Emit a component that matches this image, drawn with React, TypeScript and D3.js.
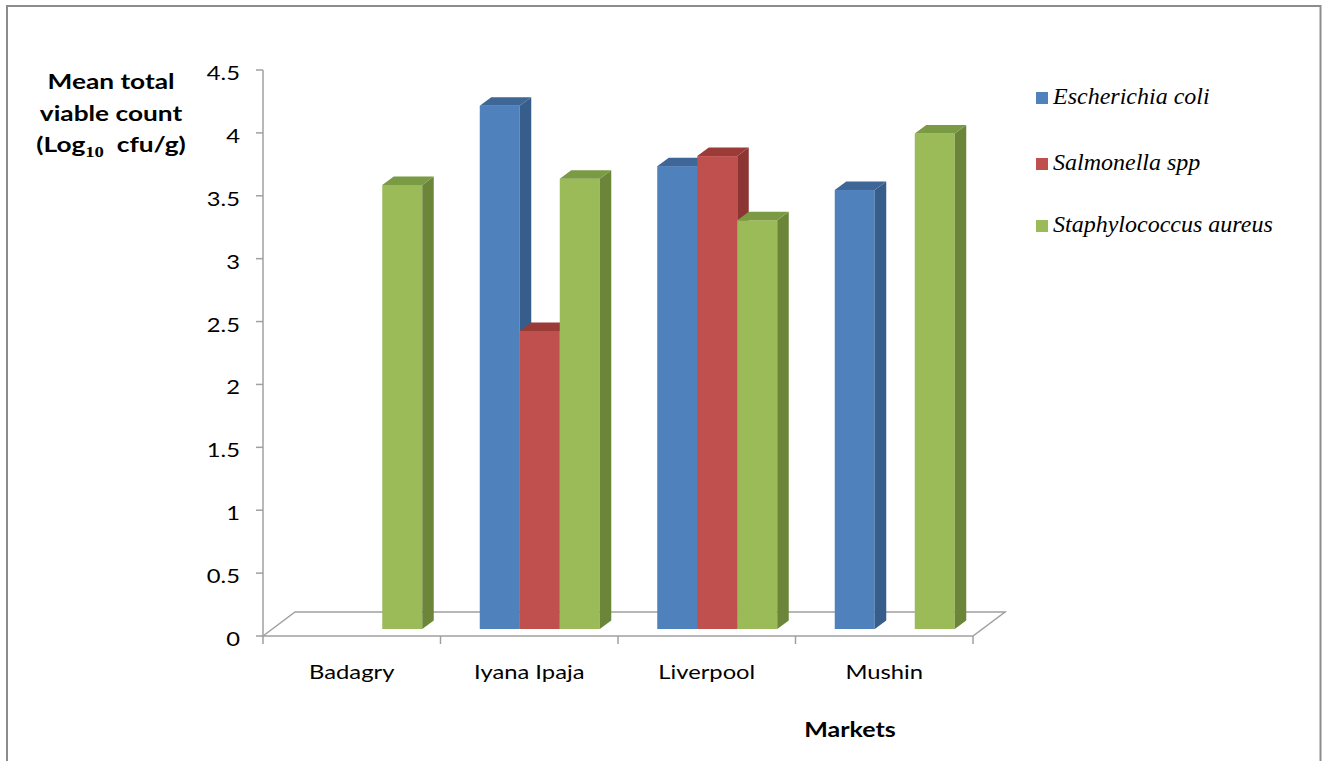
import React from "react";
import * as d3 from "d3";

const categories = ["Badagry", "Iyana Ipaja", "Liverpool", "Mushin"];
const seriesNames = ["Escherichia coli", "Salmonella spp", "Staphylococcus aureus"];
const ecoli = [0, 4.16, 3.68, 3.49];
const salmonella = [0, 2.37, 3.76, 0];
const staph = [3.53, 3.58, 3.25, 3.94];
const yTicks = [0, 0.5, 1, 1.5, 2, 2.5, 3, 3.5, 4, 4.5];

const seriesValues = [ecoli, salmonella, staph];
const frontColors = ["#4F81BD", "#C0504D", "#9BBB59"];
const sideColors = ["#375D8B", "#8B3633", "#6B8539"];
const topColors = ["#3E6697", "#9A3B38", "#7A9A44"];

const W = 1325;
const H = 761;
const axisX0 = 263;
const axisX1 = 973;
const axisY0 = 636;
const axisYTop = 70;
const floorDx = 32;
const floorDy = -24;
const barBase = 629;
const barShift = 10.5;
const barDx = 11.5;
const barDy = -8.5;
const SX = 1.25;
const SANS = "Lato, 'Open Sans', sans-serif";
const SERIF = "'Liberation Serif', 'Times New Roman', serif";

export default function App() {
  const xCat = d3.scaleBand<string>().domain(categories).range([axisX0, axisX1]).padding(0);
  const xSer = d3.scaleBand<string>().domain(seriesNames).range([-60, 60]).padding(0);
  const yAxis = d3.scaleLinear().domain([0, 4.5]).range([axisY0, axisYTop]);
  const yBar = d3.scaleLinear().domain([0, 4.5]).range([barBase, barBase - (axisY0 - axisYTop)]);
  const grey = "#A0A0A0";

  const bars: React.ReactNode[] = [];
  categories.forEach((c, ci) => {
    const center = (xCat(c) as number) + xCat.bandwidth() / 2 + barShift;
    seriesNames.forEach((s, si) => {
      const v = seriesValues[si][ci];
      if (!(v > 0)) return;
      const x = center + (xSer(s) as number);
      const w = xSer.bandwidth();
      const y = yBar(v);
      const b = yBar(0);
      bars.push(
        <g key={`${ci}-${si}`}>
          <rect x={x} y={y} width={w} height={b - y} fill={frontColors[si]} />
          <polygon
            points={`${x + w},${y} ${x + w + barDx},${y + barDy} ${x + w + barDx},${b + barDy} ${x + w},${b}`}
            fill={sideColors[si]}
          />
          <polygon
            points={`${x},${y} ${x + barDx},${y + barDy} ${x + w + barDx},${y + barDy} ${x + w},${y}`}
            fill={topColors[si]}
          />
        </g>
      );
    });
  });

  const txt = (x: number, y: number, anchor: string, content: React.ReactNode, size: number, weight = "normal", key?: string) => (
    <g key={key} transform={`translate(${x},${y}) scale(${SX},1)`}>
      <text x={0} y={0} textAnchor={anchor} fontFamily={SANS} fontSize={size} fontWeight={weight} fill="#000">
        {content}
      </text>
    </g>
  );

  return (
    <svg width={W} height={H} style={{ position: "absolute", left: 0, top: 0, background: "#fff" }}>
      <rect x={0} y={0} width={W} height={H} fill="#fff" />
      <rect x={7} y={6} width={1313.5} height={820} fill="none" stroke="#8C8C8C" strokeWidth={2} />

      {/* floor */}
      <polygon
        points={`${axisX0},${axisY0} ${axisX0 + floorDx},${axisY0 + floorDy} ${axisX1 + floorDx},${axisY0 + floorDy} ${axisX1},${axisY0}`}
        fill="#fff"
        stroke={grey}
        strokeWidth={1.5}
      />
      {/* y axis */}
      <line x1={axisX0} x2={axisX0} y1={axisYTop} y2={axisY0} stroke={grey} strokeWidth={1.5} />
      {yTicks.map((t) => (
        <line key={`yt${t}`} x1={axisX0 - 7} x2={axisX0} y1={yAxis(t)} y2={yAxis(t)} stroke={grey} strokeWidth={1.5} />
      ))}
      {yTicks.map((t) => txt(240, yAxis(t) + 10, "end", String(t), 19, "normal", `yl${t}`))}

      {/* category ticks */}
      {[...categories.map((c) => xCat(c) as number), axisX1].map((x, i) => (
        <line key={`xt${i}`} x1={x} x2={x} y1={axisY0} y2={axisY0 + 8} stroke={grey} strokeWidth={1.5} />
      ))}
      {categories.map((c) =>
        txt((xCat(c) as number) + xCat.bandwidth() / 2, 679, "middle", c, 19, "normal", `cl${c}`)
      )}

      {bars}

      {/* y title */}
      {txt(111, 89, "middle", "Mean total", 21, "bold", "t1")}
      {txt(111, 121, "middle", "viable count", 21, "bold", "t2")}
      {txt(
        111,
        152,
        "middle",
        <>
          (Log
          <tspan fontFamily={SERIF} fontSize={15} dy={5}>10</tspan>
          <tspan dy={-5}>{"\u00a0 cfu/g)"}</tspan>
        </>,
        21,
        "bold",
        "t3"
      )}

      {/* x title */}
      {txt(850, 737, "middle", "Markets", 20, "bold", "xt")}

      {/* legend */}
      {seriesNames.map((s, i) => {
        const ly = [104, 170, 232][i];
        return (
          <g key={`lg${s}`}>
            <rect x={1036} y={ly - 12} width={12} height={12} fill={frontColors[i]} />
            <text x={1053} y={ly} fontFamily={SERIF} fontStyle="italic" fontSize={24} fill="#000">
              {s}
            </text>
          </g>
        );
      })}
    </svg>
  );
}
